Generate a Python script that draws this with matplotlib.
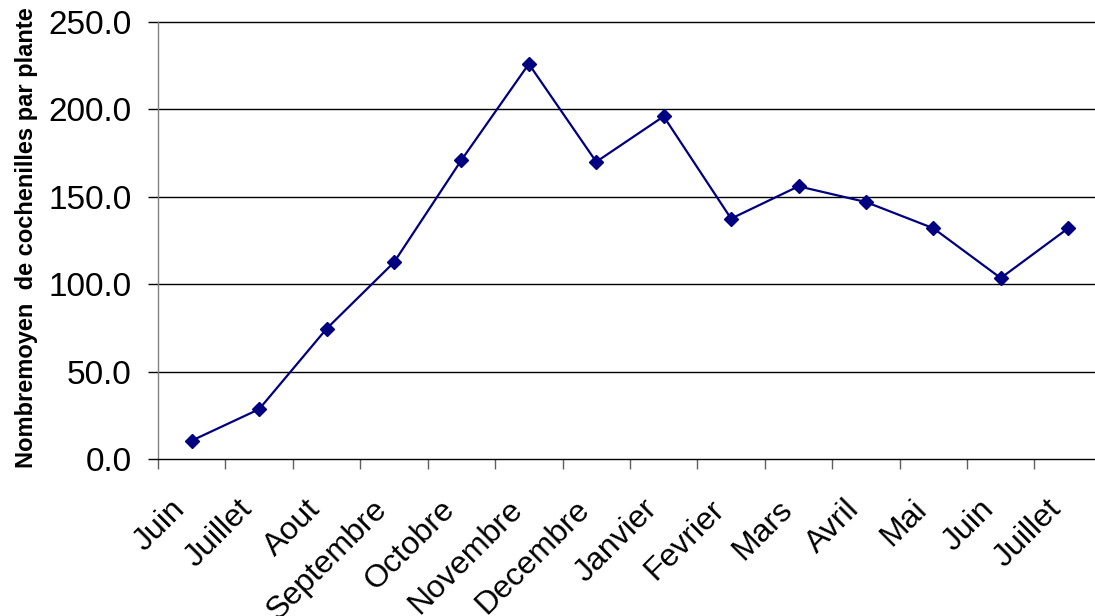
import matplotlib
matplotlib.use("Agg")
import matplotlib.pyplot as plt
import matplotlib.transforms as mtransforms
import numpy as np

# mean number of mealybugs per plant, month by month
months = ["Juin", "Juillet", "Aout", "Septembre", "Octobre", "Novembre", "Decembre",
          "Janvier", "Fevrier", "Mars", "Avril", "Mai", "Juin", "Juillet"]
counts = [10.5, 28.5, 74.5, 112.5, 171.0, 226.0, 170.0,
          196.0, 137.5, 156.0, 147.0, 132.0, 103.5, 132.0]
y_ticks = [0, 50, 100, 150, 200, 250]

plt.rcParams["font.family"] = ["Liberation Sans", "DejaVu Sans"]

fig = plt.figure(figsize=(10.95, 6.16), dpi=100)
ax = fig.add_axes([0.1443, 0.2549, 0.862, 0.7094])

x = np.arange(len(months))
ax.plot(x, counts, color="#000080", linewidth=1.6, marker="D", markersize=7.5,
        markerfacecolor="#000080", markeredgecolor="#000080", zorder=3)

ax.set_xlim(-0.5, len(months) - 0.5)
ax.set_ylim(0, 250)

# horizontal gridlines
ax.set_yticks(y_ticks)
ax.set_yticklabels([f"{v:.1f}" for v in y_ticks], fontsize=24)
for v in y_ticks[1:]:
    ax.axhline(v, color="black", linewidth=1.0, zorder=1, clip_on=False)
ax.tick_params(axis="y", length=7, width=1.0, color="black", direction="out", pad=12)

# category labels at centres, tick marks at the boundaries
ax.set_xticks(x)
ax.set_xticklabels(months, fontsize=23, rotation=45, ha="right", va="center",
                   rotation_mode="anchor")
ax.set_xticks(np.arange(-0.5, len(months)), minor=True)
ax.tick_params(axis="x", which="major", length=0, pad=33)
ax.tick_params(axis="x", which="minor", length=7, width=1.0, color="#606060", direction="out")
shift = mtransforms.ScaledTranslation(-0.11, 0, fig.dpi_scale_trans)
for lab in ax.get_xticklabels():
    lab.set_transform(lab.get_transform() + shift)

for side in ("top", "right"):
    ax.spines[side].set_visible(False)
ax.spines["left"].set_color("#808080")
ax.spines["left"].set_linewidth(1.0)
ax.spines["bottom"].set_color("black")
ax.spines["bottom"].set_linewidth(1.0)

ax.set_ylabel("Nombremoyen  de cochenilles par plante", fontsize=17, fontweight="bold")
ax.yaxis.set_label_coords(-0.127, 0.507)

fig.savefig("out.png", dpi=100)
